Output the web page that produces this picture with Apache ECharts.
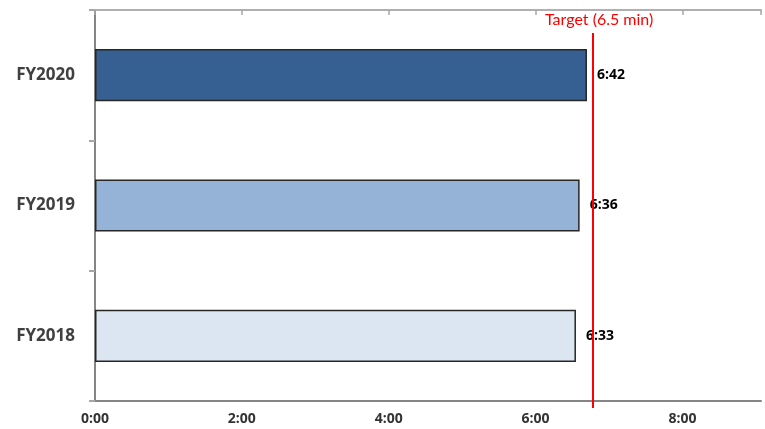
<!DOCTYPE html>
<html>
<head>
<meta charset="utf-8">
<script src="https://cdn.jsdelivr.net/npm/echarts@6/dist/echarts.min.js"></script>
<style>
  html, body { margin: 0; padding: 0; background: #fff; }
  #chart { width: 765px; height: 429px; }
</style>
</head>
<body>
<div id="chart"></div>
<script>
// Average times per fiscal year, in minutes
const categories = ['FY2018', 'FY2019', 'FY2020'];
const avgMinutes = [6.55, 6.6, 6.7];
const barColors = ['#DCE6F2', '#95B3D7', '#376092'];
const targetMinutes = 6.5;
const axisMax = 9.07;          // primary time axis, minutes
const targetAxisMax = 8.69;    // secondary scale the target line is plotted on
const tickStep = 2;

// minutes -> "m:ss"
function fmt(v) {
  const s = Math.round(v * 60);
  const m = Math.floor(s / 60);
  const r = s % 60;
  return m + ':' + (r < 10 ? '0' : '') + r;
}

const FONT = '"Open Sans", "Liberation Sans", sans-serif';

const chart = echarts.init(document.getElementById('chart'), null, { renderer: 'canvas' });

chart.setOption({
  animation: false,
  backgroundColor: '#ffffff',
  title: {
    text: 'Target (' + targetMinutes + ' min)',
    left: 545,
    top: 12,
    padding: 0,
    textStyle: { color: '#FF0000', fontSize: 16, fontWeight: 'normal', fontFamily: 'Lato, ' + FONT }
  },
  grid: [
    { left: 95, right: 4, top: 10, bottom: 28 },
    { left: 95, right: 4, top: 33, bottom: 21 }
  ],
  xAxis: [
    {
      type: 'value', gridIndex: 0, position: 'bottom',
      min: 0, max: axisMax, interval: tickStep,
      splitLine: { show: false },
      axisTick: { show: false },
      axisLine: { show: true, lineStyle: { color: '#858585', width: 2 } },
      axisLabel: {
        showMaxLabel: false,
        formatter: fmt, margin: 11,
        color: '#333333', fontSize: 14, fontWeight: 'bold', fontFamily: FONT
      }
    },
    {
      type: 'value', gridIndex: 0, position: 'top',
      min: 0, max: axisMax, interval: tickStep,
      splitLine: { show: false },
      axisLabel: { show: false },
      axisTick: { show: true, inside: true, length: 5, lineStyle: { color: '#a6a6a6', width: 1.5 } },
      axisLine: { show: true, lineStyle: { color: '#b0b0b0', width: 2 } }
    },
    {
      type: 'value', gridIndex: 1,
      min: 0, max: targetAxisMax,
      show: false
    }
  ],
  yAxis: [
    {
      type: 'category', gridIndex: 0, data: categories,
      axisLine: { show: true, lineStyle: { color: '#a6a6a6', width: 2 } },
      axisTick: { show: true, length: 6, lineStyle: { color: '#a6a6a6', width: 2 } },
      axisLabel: { margin: 20, color: '#404040', fontSize: 17, fontWeight: 'bold', fontFamily: FONT }
    },
    {
      type: 'category', gridIndex: 0, position: 'right', data: categories,
      axisLine: { show: true, lineStyle: { color: '#858585', width: 2 } },
      axisTick: { show: false },
      axisLabel: { show: false }
    },
    {
      type: 'value', gridIndex: 1, show: false, min: 0, max: 1
    }
  ],
  series: [
    {
      type: 'bar',
      xAxisIndex: 0, yAxisIndex: 0,
      barWidth: '40%',
      data: avgMinutes.map((v, i) => ({ value: v, itemStyle: { color: barColors[i] } })),
      itemStyle: { borderColor: '#262626', borderWidth: 1.5 },
      label: {
        show: true, position: 'right', distance: 10,
        formatter: p => fmt(p.value),
        color: '#000000', fontSize: 14, fontWeight: 'bold', fontFamily: FONT
      },
      z: 2
    },
    {
      type: 'line',
      xAxisIndex: 2, yAxisIndex: 2,
      data: [],
      markLine: {
        silent: true,
        symbol: 'none',
        label: { show: false },
        lineStyle: { color: '#FF0000', width: 2, type: 'solid' },
        data: [{ xAxis: targetMinutes }]
      },
      z: 5
    }
  ]
});
</script>
</body>
</html>
